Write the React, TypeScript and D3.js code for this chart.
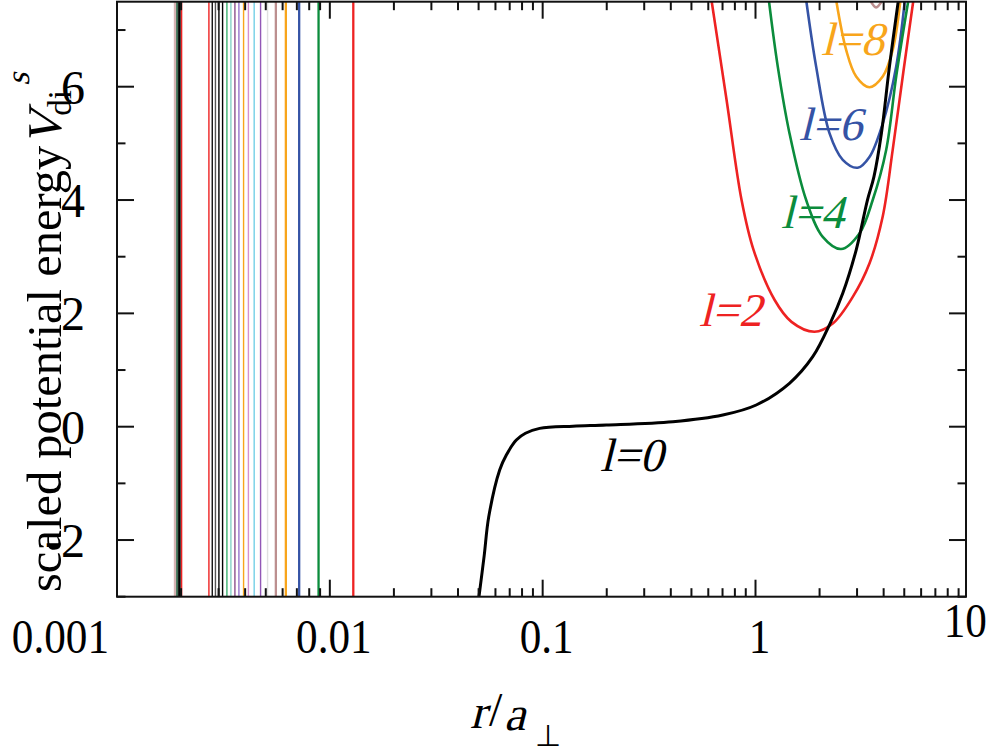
import { useLayoutEffect, useRef } from 'react'
import * as d3 from 'd3'

// r / a_perp  vs  scaled potential energy, one curve per partial wave l
const curveL0: [number, number][] = [
  [0.0502, -3.0], [0.0531, -2.28], [0.0558, -1.59], [0.0628, -0.764], [0.0675, -0.5],
  [0.0752, -0.235], [0.083, -0.116], [0.0968, -0.03], [0.1388, 0.01], [0.199, 0.03],
  [0.409, 0.088], [0.702, 0.206], [1.008, 0.383], [1.444, 0.766], [1.858, 1.235],
  [2.243, 1.825], [2.57, 2.354], [2.971, 3.118], [3.357, 4.0], [3.6, 4.41],
  [3.905, 5.18], [4.257, 6.35], [4.693, 7.53],
]
const curveL2: [number, number][] = [
  [0.621, 7.53], [0.731, 5.77], [0.86, 4.0], [0.979, 3.12], [1.228, 2.24], [1.476, 1.85],
  [1.892, 1.675], [2.307, 1.82], [2.864, 2.29], [3.43, 2.88], [3.96, 3.71],
  [4.41, 4.88], [4.95, 6.26], [5.52, 7.53],
]
const curveL4: [number, number][] = [
  [1.155, 7.53], [1.273, 6.35], [1.444, 5.18], [1.73, 4.0], [2.07, 3.35], [2.525, 3.136],
  [3.078, 3.41], [3.554, 4.0], [4.108, 4.88], [4.59, 6.2], [5.23, 7.53],
]
const curveL6: [number, number][] = [
  [1.73, 7.53], [1.928, 6.35], [2.226, 5.18], [2.57, 4.71], [3.022, 4.57], [3.43, 4.76],
  [3.96, 5.35], [4.578, 6.35], [5.035, 7.53],
]
const curveL8: [number, number][] = [
  [2.393, 7.53], [2.666, 6.65], [2.971, 6.18], [3.43, 5.99], [3.96, 6.18], [4.413, 6.65],
  [4.796, 7.53],
]
const curveL10: [number, number][] = [
  [3.42, 7.56], [3.687, 7.4], [3.99, 7.56],
]

// steep inner walls near r ~ 0.002 - 0.013 (drawn as vertical lines)
const wallR = [
  0.001872, 0.001919, 0.001965, 0.002012, 0.002703, 0.002803, 0.002901, 0.003012,
  0.003134, 0.003284, 0.003429, 0.003581, 0.003739, 0.003933, 0.004144, 0.004411,
  0.004727, 0.005099, 0.005577, 0.006214, 0.007177, 0.008851, 0.01289,
]
const wallColors = [
  '#d6b4b4', '#3f6f55', '#000000', '#ee2222', '#ee2222', '#111111', '#555555', '#000000',
  '#000000', '#3cb371', '#86d2c8', '#8c4f8c', '#9575cd', '#f8a51b', '#d68fd0', '#74d0e6',
  '#9256b6', '#e0e0e0', '#bc8f8f', '#f8a51b', '#3553a5', '#0b8c3c', '#ee2222',
]

const xTicks = [0.001, 0.01, 0.1, 1, 10]
const xTickLabels = ['0.001', '0.01', '0.1', '1', '10']
const yTicks = [-2, 0, 2, 4, 6]
const yTickLabels = ['-2', '0', '2', '4', '6']

const W = 997
const H = 753
const SERIF = 'Liberation Serif'

type Sel = d3.Selection<any, unknown, null, undefined>

// no italic serif face is available, so slant the upright one
function slanted(parent: Sel, px: number, py: number, txt: string, size: number, color = '#000') {
  return parent.append('g')
    .attr('transform', `translate(${px},${py}) skewX(-14)`)
    .append('text')
    .attr('font-family', SERIF).attr('font-size', size).attr('fill', color)
    .text(txt)
}

function PotentialChart() {
  const ref = useRef<SVGSVGElement | null>(null)

  useLayoutEffect(() => {
    if (!ref.current) return
    const svg = d3.select(ref.current)
    svg.selectAll('*').remove()

    const left = 117
    const right = 966
    const top = 1.7
    const bottom = 596.7

    const x = d3.scaleLog().domain([0.001, 9.75]).range([left, right])
    const y = d3.scaleLinear().domain([-3, 7.5]).range([bottom, top])

    svg.append('rect').attr('width', W).attr('height', H).attr('fill', '#fff')

    svg.append('clipPath').attr('id', 'plot-clip')
      .append('rect')
      .attr('x', left).attr('y', top)
      .attr('width', right - left).attr('height', bottom - top)

    const plot = svg.append('g').attr('clip-path', 'url(#plot-clip)')

    // vertical walls
    wallR.forEach((r, i) => {
      const wide = r > 0.0052 || i < 3
      plot.append('line')
        .attr('x1', x(r)).attr('x2', x(r))
        .attr('y1', y(y.domain()[0])).attr('y2', y(y.domain()[1]))
        .attr('stroke', wallColors[i])
        .attr('stroke-width', i === 2 ? 2.6 : wide ? 2.3 : 1.4)
    })

    const line = d3.line<[number, number]>()
      .x((d) => x(d[0]))
      .y((d) => y(d[1]))
      .curve(d3.curveCatmullRom.alpha(0.5))

    const curves: [[number, number][], string, number][] = [
      [curveL10, '#bc8f8f', 2.6],
      [curveL8, '#f8a51b', 2.6],
      [curveL6, '#3553a5', 2.6],
      [curveL4, '#0b8c3c', 2.6],
      [curveL2, '#ee2222', 2.6],
      [curveL0, '#000000', 3],
    ]
    curves.forEach(([data, color, w]) => {
      plot.append('path')
        .attr('d', line(data))
        .attr('fill', 'none')
        .attr('stroke', color)
        .attr('stroke-width', w)
    })

    // frame + ticks
    const axis = svg.append('g').attr('stroke', '#111').attr('stroke-width', 2)
    axis.append('rect')
      .attr('x', left).attr('y', top)
      .attr('width', right - left).attr('height', bottom - top)
      .attr('fill', 'none')

    const major = 17
    const minor = 8.5
    const xMinor: number[] = []
    xTicks.forEach((t) => {
      for (let k = 2; k <= 9; k++) xMinor.push(t * k)
    })
    const [x0, x1] = x.domain()
    xTicks.filter((t) => t >= x0 && t <= x1).forEach((t) => {
      axis.append('line').attr('x1', x(t)).attr('x2', x(t)).attr('y1', bottom).attr('y2', bottom - major)
      axis.append('line').attr('x1', x(t)).attr('x2', x(t)).attr('y1', top).attr('y2', top + major)
    })
    xMinor.filter((t) => t > x0 && t < x1).forEach((t) => {
      axis.append('line').attr('x1', x(t)).attr('x2', x(t)).attr('y1', bottom).attr('y2', bottom - minor)
      axis.append('line').attr('x1', x(t)).attr('x2', x(t)).attr('y1', top).attr('y2', top + minor)
    })
    const yMinor = d3.range(-3, 7.6, 1).filter((v) => v % 2 !== 0)
    yTicks.forEach((t) => {
      axis.append('line').attr('x1', left).attr('x2', left + major).attr('y1', y(t)).attr('y2', y(t))
      axis.append('line').attr('x1', right).attr('x2', right - major).attr('y1', y(t)).attr('y2', y(t))
    })
    yMinor.forEach((t) => {
      axis.append('line').attr('x1', left).attr('x2', left + minor).attr('y1', y(t)).attr('y2', y(t))
      axis.append('line').attr('x1', right).attr('x2', right - minor).attr('y1', y(t)).attr('y2', y(t))
    })

    // tick labels
    const labels = svg.append('g').attr('font-family', SERIF).attr('font-size', 48).attr('fill', '#000')
    yTicks.forEach((t, i) => {
      labels.append('text')
        .attr('x', 85).attr('y', y(t)).attr('dy', '0.35em')
        .attr('text-anchor', 'end')
        .text(yTickLabels[i])
    })
    xTicks.forEach((t, i) => {
      const first = i === 0
      const last = i === xTicks.length - 1
      labels.append('g')
        .attr('transform', `translate(${first ? 109 : x(t) + (last ? -3 : 4)},${last ? 637 : 653}) scale(0.9,1)`)
        .append('text')
        .attr('text-anchor', first ? 'end' : 'middle')
        .text(xTickLabels[i])
    })

    // axis titles
    slanted(svg, 470, 728, 'r', 48)
    svg.append('text').attr('font-family', SERIF).attr('font-size', 48)
      .attr('x', 489).attr('y', 726).text('/')
    slanted(svg, 504, 730, 'a', 48)
    svg.append('text').attr('font-family', SERIF).attr('font-size', 30)
      .attr('x', 535).attr('y', 746).text('⊥')

    const yt = svg.append('g').attr('transform', 'translate(61,592) rotate(-90)')
    const ytText = yt.append('text')
      .attr('font-family', SERIF).attr('font-size', 48.5)
      .text('scaled potential energy ')
    const baseLen = (ytText.node() as SVGTextElement).getComputedTextLength()
    slanted(yt, baseLen, 0, 'V', 48.5)
    yt.append('text').attr('font-family', SERIF).attr('font-size', 33)
      .attr('x', baseLen + 30).attr('y', 10).text('di')
    slanted(yt, baseLen + 60, -32, 's', 33)

    // curve labels
    const curveLabels: [string, string, number, number][] = [
      ['l=0', '#000000', 600, 471],
      ['l=2', '#ee2222', 699, 326],
      ['l=4', '#0b8c3c', 781, 228],
      ['l=6', '#3553a5', 799, 140],
      ['l=8', '#f8a51b', 821, 55],
    ]
    curveLabels.forEach(([txt, color, lx, ly]) => {
      slanted(svg, lx, ly, txt, 47, color)
    })
  }, [])

  return <svg ref={ref} width={W} height={H} style={{ position: 'absolute', left: 0, top: 0 }} />
}

export default function App() {
  return <PotentialChart />
}
